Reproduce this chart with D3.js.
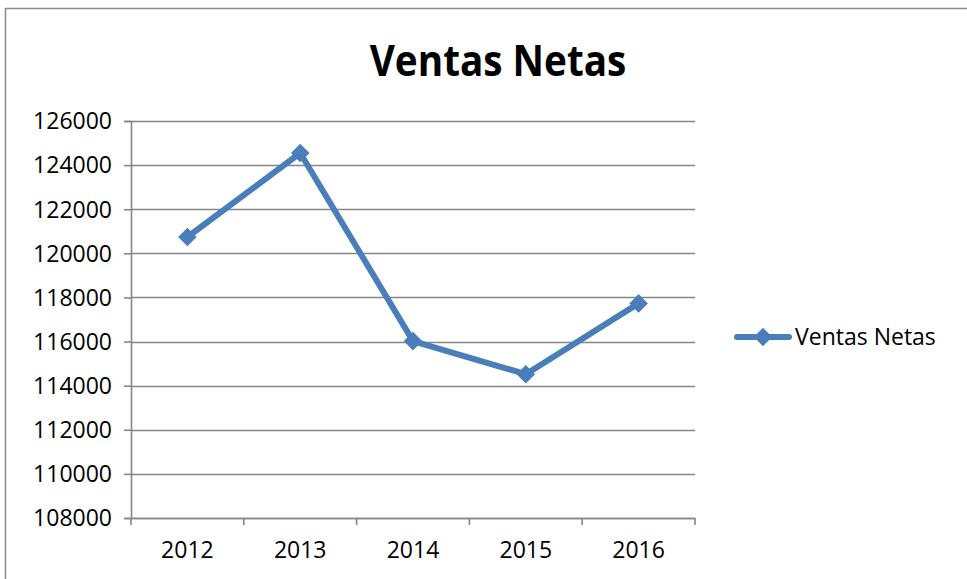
<!DOCTYPE html>
<html lang="es">
<head>
  <meta charset="utf-8">
  <title>Ventas Netas</title>
  <script src="https://d3js.org/d3.v7.min.js"></script>
  <style>
    body { margin: 0; background: #fff; }
    svg text { font-family: "Open Sans", "Liberation Sans", sans-serif; fill: #000; }
  </style>
</head>
<body>
<div id="my_dataviz"></div>
<script>
// data
const years = ["2012", "2013", "2014", "2015", "2016"];
const ventas = [120740, 124550, 116020, 114520, 117730];
const yTicks = [108000, 110000, 112000, 114000, 116000, 118000, 120000, 122000, 124000, 126000];
const seriesName = "Ventas Netas";

const W = 967, H = 579;
const margin = {top: 121, left: 131, right: 272, bottom: 61};
const width = W - margin.left - margin.right,
      height = H - margin.top - margin.bottom;

const svg = d3.select("#my_dataviz")
  .append("svg")
    .attr("width", W)
    .attr("height", H);

// chart frame
svg.append("rect")
  .attr("x", 5.5).attr("y", 8.5)
  .attr("width", 1000).attr("height", 1000)
  .attr("fill", "none")
  .attr("stroke", "#8c8c8c")
  .attr("stroke-width", 1.5);

// title, squeezed a little to look like the narrower original font
svg.append("text")
  .attr("transform", "translate(498,76) scale(0.9,1)")
  .attr("text-anchor", "middle")
  .style("font-size", "43px")
  .style("font-weight", "700")
  .text("Ventas Netas");

const g = svg.append("g")
  .attr("transform", `translate(${margin.left},${margin.top})`);

const x = d3.scaleBand()
  .domain(years)
  .range([0, width]);

const y = d3.scaleLinear()
  .domain([108000, 126000])
  .range([height, 0]);

// horizontal gridlines
g.append("g")
  .selectAll("line")
  .data(yTicks)
  .join("line")
    .attr("x1", 0).attr("x2", width)
    .attr("y1", d => Math.round(y(d)) + 0.5)
    .attr("y2", d => Math.round(y(d)) + 0.5)
    .attr("stroke", "#868686")
    .attr("stroke-width", 1.6);

// Y axis
const yAxis = g.append("g")
  .call(d3.axisLeft(y).tickValues(yTicks).tickFormat(d3.format("d")).tickSize(7).tickPadding(12));
yAxis.select(".domain").attr("stroke", "#868686").attr("stroke-width", 1.6);
yAxis.selectAll(".tick line").attr("stroke", "#868686").attr("stroke-width", 1.6);
yAxis.selectAll("text").style("font-size", "23px").attr("dy", "0.34em");

// X axis, ticks at category boundaries
const xAxis = g.append("g")
  .attr("transform", `translate(0,${height})`)
  .call(d3.axisBottom(x).tickSize(0).tickPadding(24));
xAxis.select(".domain").attr("stroke", "#868686").attr("stroke-width", 1.6);
xAxis.selectAll("text").style("font-size", "23px");
xAxis.append("g")
  .selectAll("line")
  .data(years.concat([null]))
  .join("line")
    .attr("x1", (d, i) => i * x.step()).attr("x2", (d, i) => i * x.step())
    .attr("y1", 0).attr("y2", 7)
    .attr("stroke", "#868686")
    .attr("stroke-width", 1.6);

// series line
const blue = "#4a7ebb";
const line = d3.line()
  .x((d, i) => x(years[i]) + x.bandwidth() / 2)
  .y(d => y(d));

g.append("path")
  .datum(ventas)
  .attr("d", line)
  .attr("fill", "none")
  .attr("stroke", blue)
  .attr("stroke-width", 6)
  .attr("stroke-linejoin", "round");

const diamond = d3.symbol().type(d3.symbolDiamond2).size(220);
g.selectAll(".marker")
  .data(ventas)
  .join("path")
    .attr("class", "marker")
    .attr("d", diamond)
    .attr("transform", (d, i) => `translate(${x(years[i]) + x.bandwidth() / 2},${y(d)})`)
    .attr("fill", blue);

// legend
const lg = svg.append("g").attr("transform", "translate(737,337)");
lg.append("line")
  .attr("x1", 0).attr("x2", 52)
  .attr("stroke", blue)
  .attr("stroke-width", 6)
  .attr("stroke-linecap", "round");
lg.append("path")
  .attr("d", diamond)
  .attr("transform", "translate(26,0)")
  .attr("fill", blue);
lg.append("text")
  .attr("x", 58).attr("y", 0)
  .attr("dy", "0.34em")
  .style("font-size", "23px")
  .text(seriesName);
</script>
</body>
</html>
